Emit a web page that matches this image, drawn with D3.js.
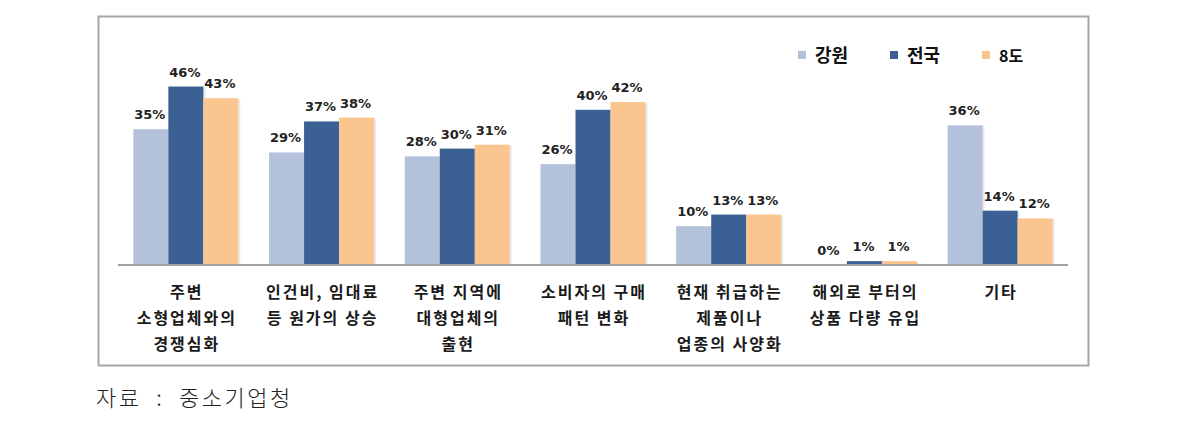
<!DOCTYPE html>
<html><head><meta charset="utf-8">
<script src="https://cdn.jsdelivr.net/npm/d3@7"></script>
<style>
body{margin:0;background:#fff;}
svg{display:block;}
</style></head>
<body>
<svg id="chart" width="1193" height="429"></svg>
<script>
const categories = [
  ["주변","소형업체와의","경쟁심화"],
  ["인건비, 임대료","등 원가의 상승"],
  ["주변 지역에","대형업체의","출현"],
  ["소비자의 구매","패턴 변화"],
  ["현재 취급하는","제품이나","업종의 사양화"],
  ["해외로 부터의","상품 다량 유입"],
  ["기타"]
];
const seriesNames = ["강원","전국","8도"];
const gangwon = [35,29,28,26,10,0,36];
const national = [46,37,30,40,13,1,14];
const eightDo = [43,38,31,42,13,1,12];
const seriesValues = [gangwon, national, eightDo];
const colors = ["#B4C1DA","#3B6093","#FBC590"];
const sourceText = "자료  :  중소기업청";

const svg = d3.select("#chart");
const KR = "'Noto Sans CJK KR','Noto Sans',sans-serif";

// frame
svg.append("rect").attr("x",98.5).attr("y",16.5).attr("width",990).attr("height",349)
  .attr("fill","#fff").attr("stroke","#A6A6A6").attr("stroke-width",2);

const x0 = d3.scaleBand().domain(d3.range(categories.length)).range([118,1068]).paddingInner(0.226).paddingOuter(0.113);
const x1 = d3.scaleBand().domain(d3.range(seriesNames.length)).range([0,x0.bandwidth()]);
const y = d3.scaleLinear().domain([0,50]).range([265,71]);

const groups = svg.append("g").selectAll("g").data(categories).join("g")
  .attr("transform",(d,i)=>`translate(${x0(i)},0)`);

// shadows
groups.each(function(d,i){
  const g = d3.select(this);
  seriesValues.forEach((vals,s)=>{
    if(vals[i]<=0) return;
    g.append("rect").attr("x",x1(s)+2).attr("y",y(vals[i])+1).attr("width",x1.bandwidth())
      .attr("height",y(0)-y(vals[i])-1).attr("fill","#000").attr("opacity",0.08);
  });
});
groups.each(function(d,i){
  const g = d3.select(this);
  seriesValues.forEach((vals,s)=>{
    g.append("rect").attr("x",x1(s)).attr("y",y(vals[i])).attr("width",x1.bandwidth())
      .attr("height",y(0)-y(vals[i])).attr("fill",colors[s]);
    g.append("text").attr("x",x1(s)+x1.bandwidth()/2-1).attr("y",y(vals[i])-10)
      .attr("text-anchor","middle").attr("font-family","'DejaVu Sans',Verdana,sans-serif")
      .attr("font-weight","bold").attr("font-size",13).attr("fill","#222")
      .text(vals[i]+"%");
  });
});

// axis line
const xAxis = d3.axisBottom(x0).tickSize(0).tickFormat("");
const axG = svg.append("g").attr("transform","translate(0,265)").call(xAxis);
axG.select(".domain").attr("stroke","#A0A0A0").attr("stroke-width",2).attr("d","M118,0H1068");

// category labels
groups.each(function(d,i){
  const t = d3.select(this).append("text").attr("font-family",KR).attr("font-weight","bold")
    .attr("font-size",16).attr("fill","#1a1a1a").attr("text-anchor","middle")
    .style("letter-spacing","2px");
  d.forEach((line,k)=>{
    t.append("tspan").attr("x",x0.bandwidth()/2+1).attr("y",298+k*26).text(line);
  });
});

// legend
const legX = [798,890,982];
const leg = svg.append("g");
seriesNames.forEach((n,s)=>{
  leg.append("rect").attr("x",legX[s]).attr("y",51).attr("width",8).attr("height",8).attr("fill",colors[s]);
  leg.append("text").attr("x",legX[s]+17).attr("y",62).attr("font-family",KR).attr("font-weight","bold")
    .attr("font-size",s===2?16:18).attr("fill","#111").text(n);
});

// source
svg.append("text").attr("x",96).attr("y",406).attr("font-family","'Noto Sans CJK KR',serif")
  .attr("font-weight",300).attr("font-size",22).attr("fill","#222").style("letter-spacing","2.5px")
  .attr("xml:space","preserve").style("white-space","pre").text(sourceText);
</script>
</body></html>
